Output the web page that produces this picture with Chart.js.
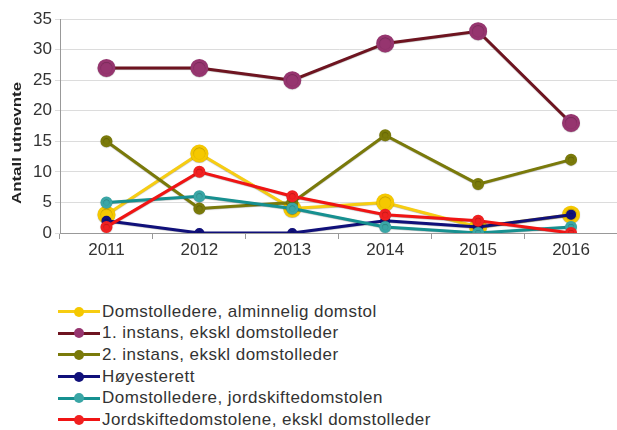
<!DOCTYPE html>
<html>
<head>
<meta charset="utf-8">
<script src="https://cdn.jsdelivr.net/npm/chart.js@4"></script>
<style>
  body { margin: 0; background: #fff; font-family: "Liberation Sans", Arial, sans-serif; overflow: hidden; }
  #wrap { position: relative; width: 617px; height: 430px; overflow: hidden; }
  #box { position: absolute; left: 0; top: 0; width: 628px; height: 272px; }
  #legend { position: absolute; left: 58px; top: 301px; }
  .row { height: 21.6px; display: flex; align-items: center; font-size: 17px; letter-spacing: 0.45px; color: #333; white-space: nowrap; }
  .mk { position: relative; width: 42px; height: 12px; margin-right: 2px; }
  .mk .ln { position: absolute; left: 0; right: 0; top: 4.5px; height: 3px; }
  .mk .dt { position: absolute; left: 16px; top: 1px; width: 10px; height: 10px; border-radius: 50%; }
</style>
</head>
<body>
<div id="wrap">
  <div id="box"><canvas id="chart"></canvas></div>
  <div id="legend"></div>
</div>
<script>
// years and series (antall utnevnte)
const years = ['2011', '2012', '2013', '2014', '2015', '2016'];
const domstolledereAlm = [3, 13, 4, 5, 1, 3];
const forsteInstans = [27, 27, 25, 31, 33, 18];
const andreInstans = [15, 4, 5, 16, 8, 12];
const hoyesterett = [2, 0, 0, 2, 1, 3];
const domstolledereJord = [5, 6, 4, 1, 0, 1];
const jordskifte = [1, 10, 6, 3, 2, 0];
const yTitle = 'Antall utnevnte';

const series = [
  { label: 'Domstolledere, alminnelig domstol', data: domstolledereAlm, line: '#f7cd12', dot: '#f5c800', r: 7.5 },
  { label: '1. instans, ekskl domstolleder', data: forsteInstans, line: '#6e1420', dot: '#96356f', r: 7.5 },
  { label: '2. instans, ekskl domstolleder', data: andreInstans, line: '#7a7a0a', dot: '#7a7a0a', r: 4.5 },
  { label: 'Høyesterett', data: hoyesterett, line: '#10107a', dot: '#10107a', r: 3.5 },
  { label: 'Domstolledere, jordskiftedomstolen', data: domstolledereJord, line: '#169090', dot: '#3aa6a6', r: 4.5 },
  { label: 'Jordskiftedomstolene, ekskl domstolleder', data: jordskifte, line: '#f01414', dot: '#f02020', r: 4.5 }
];

// soft dark edge under the lines
const shadow = {
  id: 'shadow',
  beforeDatasetsDraw(chart) {
    chart.ctx.save();
    chart.ctx.shadowColor = 'rgba(0,0,0,0.3)';
    chart.ctx.shadowBlur = 1;
    chart.ctx.shadowOffsetY = 0.5;
  },
  afterDatasetsDraw(chart) { chart.ctx.restore(); }
};

// y title, stretched along its length like the original
const yTitlePlugin = {
  id: 'yTitle',
  afterDraw(chart) {
    const ctx = chart.ctx;
    ctx.save();
    ctx.translate(17, 143);
    ctx.rotate(-Math.PI / 2);
    ctx.scale(1.3, 1);
    ctx.font = 'bold 13px "Liberation Sans"';
    ctx.fillStyle = '#222';
    ctx.textAlign = 'center';
    ctx.textBaseline = 'middle';
    ctx.fillText(yTitle, 0, 0);
    ctx.restore();
  }
};

const font = { family: 'Liberation Sans', size: 17 };

new Chart(document.getElementById('chart'), {
  type: 'line',
  data: {
    labels: years,
    datasets: series.map((s, i) => ({
      label: s.label,
      data: s.data,
      order: series.length - i,
      borderColor: s.line,
      backgroundColor: s.dot,
      pointBackgroundColor: s.dot,
      pointBorderColor: s.dot,
      pointRadius: s.r,
      borderWidth: 3,
      tension: 0,
      fill: false
    }))
  },
  options: {
    responsive: true,
    maintainAspectRatio: false,
    animation: false,
    layout: { padding: { top: 19, right: 0, left: 0, bottom: 0 } },
    plugins: { legend: { display: false }, tooltip: { enabled: false } },
    scales: {
      x: {
        offset: true,
        grid: { display: true, drawOnChartArea: false, offset: true, tickLength: 6, color: '#999' },
        border: { color: '#999' },
        ticks: { color: '#333', font: font, padding: 1 },
        afterFit(s) { s.height = 39; }
      },
      y: {
        min: 0, max: 35,
        ticks: { stepSize: 5, color: '#333', font: font, padding: 3 },
        grid: { color: '#dcdcdc', tickLength: 5, drawTicks: true },
        border: { color: '#999' },
        afterFit(s) { s.width = 60; }
      }
    }
  },
  plugins: [shadow, yTitlePlugin]
});

// legend, one entry per row
const lg = document.getElementById('legend');
series.forEach(s => {
  const row = document.createElement('div');
  row.className = 'row';
  row.innerHTML = '<span class="mk"><span class="ln" style="background:' + s.line + '"></span>' +
    '<span class="dt" style="background:' + s.dot + '"></span></span>' + s.label;
  lg.appendChild(row);
});
</script>
</body>
</html>
